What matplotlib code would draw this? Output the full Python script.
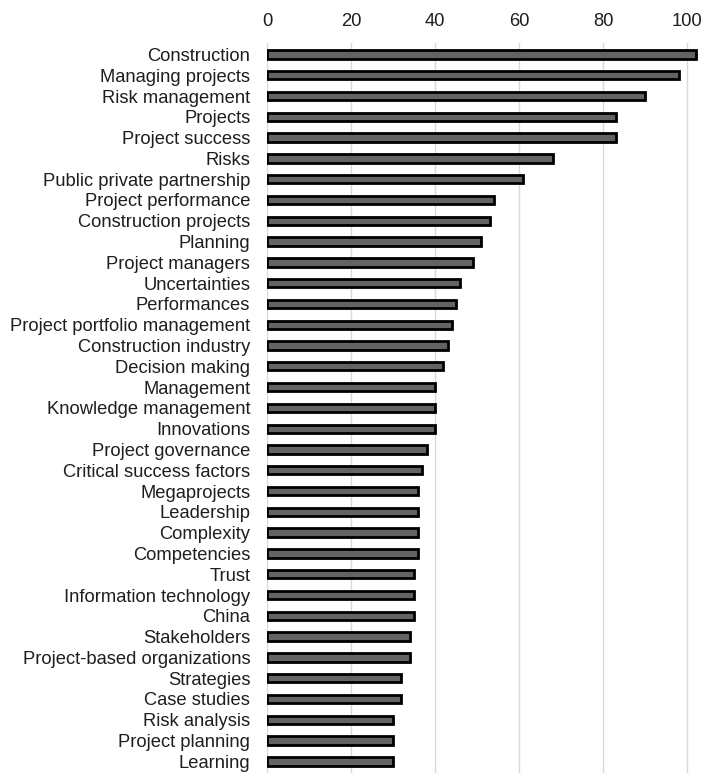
import matplotlib
matplotlib.use("Agg")
import matplotlib.pyplot as plt

keywords = [
    "Construction", "Managing projects", "Risk management", "Projects",
    "Project success", "Risks", "Public private partnership",
    "Project performance", "Construction projects", "Planning",
    "Project managers", "Uncertainties", "Performances",
    "Project portfolio management", "Construction industry",
    "Decision making", "Management", "Knowledge management", "Innovations",
    "Project governance", "Critical success factors", "Megaprojects",
    "Leadership", "Complexity", "Competencies", "Trust",
    "Information technology", "China", "Stakeholders",
    "Project-based organizations", "Strategies", "Case studies",
    "Risk analysis", "Project planning", "Learning",
]
counts = [
    102, 98, 90, 83, 83, 68, 61, 54, 53, 51, 49, 46, 45, 44, 43, 42,
    40, 40, 40, 38, 37, 36, 36, 36, 36, 35, 35, 35, 34, 34, 32, 32,
    30, 30, 30,
]
x_ticks = [0, 20, 40, 60, 80, 100]

plt.rcParams["font.family"] = ["Liberation Sans", "DejaVu Sans"]

fig = plt.figure(figsize=(7.04, 7.73), dpi=100)
ax = fig.add_axes([267 / 704, 0.0, (701 - 267) / 704, 1 - 43 / 773])

pos = list(range(len(keywords)))
ax.barh(pos, counts, height=0.40, color="#636363", edgecolor="#000000",
        linewidth=2.0, zorder=3)

ax.set_xlim(0, 103.3)
ax.set_ylim(len(keywords) - 1 + 0.56, -0.55)
ax.set_yticks(pos)
ax.set_yticklabels(keywords, fontsize=13.2, color="#1e1e1e")
ax.set_xticks(x_ticks)
ax.set_xticklabels([str(t) for t in x_ticks], fontsize=13.2, color="#1e1e1e")
ax.xaxis.tick_top()
ax.tick_params(axis="x", length=0, pad=9)
ax.tick_params(axis="y", length=0, pad=12)
ax.grid(axis="x", color="#d9d9d9", linewidth=1.0, zorder=0)
for s in ax.spines.values():
    s.set_visible(False)

fig.savefig("out.png", dpi=100)
